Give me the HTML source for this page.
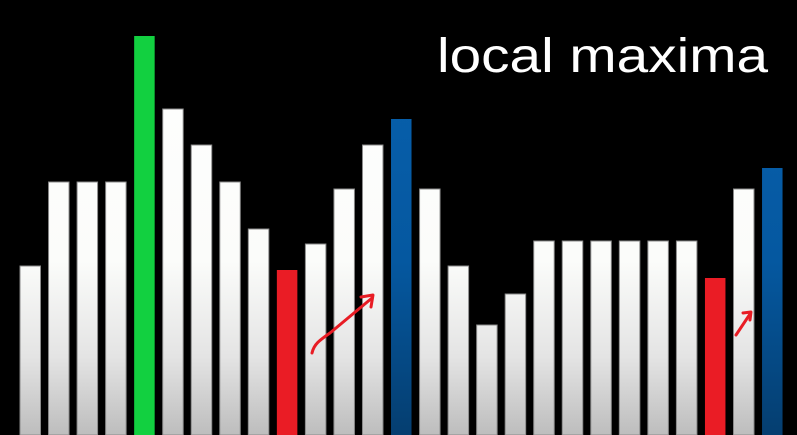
<!DOCTYPE html>
<html><head><meta charset="utf-8"><style>
html,body{margin:0;padding:0;background:#000;width:797px;height:435px;overflow:hidden}
</style></head><body>
<svg id="chart" width="797" height="435" viewBox="0 0 797 435" xmlns="http://www.w3.org/2000/svg">
<defs>
<linearGradient id="gw" x1="0" y1="0" x2="0" y2="435" gradientUnits="userSpaceOnUse">
<stop offset="0" stop-color="#ffffff"/><stop offset="0.6" stop-color="#fbfcfa"/><stop offset="0.82" stop-color="#e4e4e4"/><stop offset="1" stop-color="#bdbdbd"/></linearGradient>
<linearGradient id="gb" x1="0" y1="0" x2="0" y2="435" gradientUnits="userSpaceOnUse">
<stop offset="0" stop-color="#0862b0"/><stop offset="0.6" stop-color="#0558a0"/><stop offset="1" stop-color="#053e70"/></linearGradient>
</defs>
<g id="bars"></g>
<text x="437" y="72" font-family="Liberation Sans, sans-serif" font-size="48" fill="#fff" textLength="331" lengthAdjust="spacingAndGlyphs">local maxima</text>
<g stroke="#e81c24" stroke-width="3" fill="none" stroke-linecap="round" stroke-linejoin="round">
<path d="M312,353 C314,344 320,340 330,333 L372,298"/><path d="M361,297 L373,295 L371,307"/></g>
<g stroke="#e81c24" stroke-width="3" fill="none" stroke-linecap="round" stroke-linejoin="round">
<path d="M736,335 L750,314"/><path d="M743,313 L751,312 L750,320"/></g>
</svg>
<script>
const values = [169,253,253,253,399,326,290,253,206,165,191,246,290,316,246,169,110,141,194,194,194,194,194,194,157,246,267];
const kinds = ['w','w','w','w','g','w','w','w','w','r','w','w','w','b','w','w','w','w','w','w','w','w','w','w','r','w','b'];
const H = 435, x0 = 20, pitch = 28.54, bw = 20.5;
function xPos(i){return x0 + i*pitch;}
function yPos(v){return H - v;}
const fills = {w:'url(#gw)', g:'#12d040', r:'#ea1c25', b:'url(#gb)'};
const g = document.getElementById('bars');
values.forEach((v,i)=>{
  const r = document.createElementNS('http://www.w3.org/2000/svg','rect');
  
  
  r.setAttribute('x', xPos(i));
  r.setAttribute('y', yPos(v));
  r.setAttribute('width', bw);
  r.setAttribute('height', v);
  r.setAttribute('fill', fills[kinds[i]]);
  if(kinds[i]==='w'){r.setAttribute('stroke','#8a8a8a');r.setAttribute('stroke-width','1');}
  g.appendChild(r);
});
</script>
</body></html>
